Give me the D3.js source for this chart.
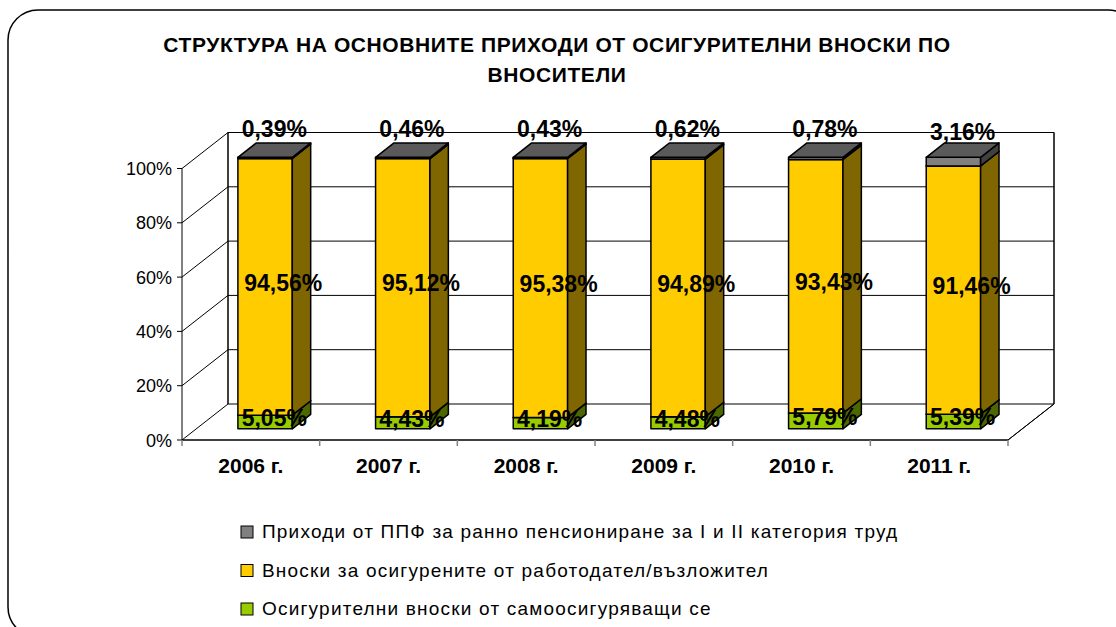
<!DOCTYPE html>
<html>
<head>
<meta charset="utf-8">
<script src="https://cdn.jsdelivr.net/npm/d3@7"></script>
<style>
  body { margin: 0; background: #fff; }
  svg { display: block; font-family: Arial, "Liberation Sans", sans-serif; }
</style>
</head>
<body>
<svg id="chart" width="1116" height="627"></svg>
<script>
// data
let years = ['2006 г.', '2007 г.', '2008 г.', '2009 г.', '2010 г.', '2011 г.'];
let selfInsured = [5.05, 4.43, 4.19, 4.48, 5.79, 5.39];
let employer = [94.56, 95.12, 95.38, 94.89, 93.43, 91.46];
let ppf = [0.39, 0.46, 0.43, 0.62, 0.78, 3.16];
let yTicks = [0, 20, 40, 60, 80, 100];
let seriesNames = [
    'Приходи от ППФ за ранно пенсиониране за I и II категория труд',
    'Вноски за осигурените от работодател/възложител',
    'Осигурителни вноски от самоосигуряващи се'
];
let titleLines = ['СТРУКТУРА НА ОСНОВНИТЕ ПРИХОДИ ОТ ОСИГУРИТЕЛНИ ВНОСКИ ПО', 'ВНОСИТЕЛИ'];

let series = [
    { name: seriesNames[2], values: selfInsured, front: '#99cc00', side: '#4d6600', top: '#7a9900' },
    { name: seriesNames[1], values: employer, front: '#ffcc00', side: '#806600', top: '#cca300' },
    { name: seriesNames[0], values: ppf, front: '#808080', side: '#404040', top: '#5a5a5a' }
];

let svg = d3.select('#chart');

// outer frame
svg.append('rect')
    .attr('x', 8).attr('y', 10)
    .attr('width', 1130).attr('height', 627)
    .attr('rx', 30)
    .attr('fill', '#fff')
    .attr('stroke', '#000')
    .attr('stroke-width', 1.5);

// title
svg.append('g').selectAll('text')
    .data(titleLines)
    .join('text')
    .attr('x', 557)
    .attr('y', (d, i) => 52 + i * 30)
    .attr('text-anchor', 'middle')
    .attr('font-size', 21)
    .attr('letter-spacing', 0.6)
    .attr('font-weight', 'bold')
    .text(d => d);

// 3d geometry
let x0 = 182, x1 = 1008, base = 440;
let depthX = 46, depthY = -36;
let x = d3.scaleBand().domain(years).range([x0, x1]);
let y = d3.scaleLinear().domain([0, 100]).range([0, 271.5]);

function pt(xf, v, d) {
    return [xf + d * depthX, base - y(v) + d * depthY];
}
function poly(points) {
    return 'M' + points.map(p => p.join(',')).join('L') + 'Z';
}

let walls = svg.append('g').attr('fill', 'none').attr('stroke', '#000').attr('stroke-width', 1);

// back wall gridlines
walls.selectAll('.grid')
    .data(yTicks)
    .join('line')
    .attr('x1', d => pt(x0, d, 1)[0]).attr('y1', d => pt(x0, d, 1)[1])
    .attr('x2', d => pt(x1, d, 1)[0]).attr('y2', d => pt(x1, d, 1)[1]);

// left wall diagonals
walls.selectAll('.diag')
    .data(yTicks)
    .join('line')
    .attr('x1', d => pt(x0, d, 0)[0]).attr('y1', d => pt(x0, d, 0)[1])
    .attr('x2', d => pt(x0, d, 1)[0]).attr('y2', d => pt(x0, d, 1)[1]);

// back wall edges
walls.append('path').attr('d', poly([pt(x0, 0, 1), pt(x0, 100, 1)]));
walls.append('path').attr('d', poly([pt(x1, 0, 1), pt(x1, 100, 1)]));
// floor right edge
walls.append('path').attr('d', poly([pt(x1, 0, 0), pt(x1, 0, 1)]));

// value axis
let yAxis = svg.append('g');
yAxis.append('line')
    .attr('x1', x0).attr('x2', x0)
    .attr('y1', pt(x0, 0, 0)[1]).attr('y2', pt(x0, 100, 0)[1])
    .attr('stroke', '#000');
yAxis.selectAll('.tick')
    .data(yTicks)
    .join('line')
    .attr('x1', x0 - 5).attr('x2', x0)
    .attr('y1', d => pt(x0, d, 0)[1]).attr('y2', d => pt(x0, d, 0)[1])
    .attr('stroke', '#000');
yAxis.selectAll('text')
    .data(yTicks)
    .join('text')
    .attr('x', x0 - 10)
    .attr('y', d => pt(x0, d, 0)[1] + 6.5)
    .attr('text-anchor', 'end')
    .attr('font-size', 18)
    .text(d => d + '%');

// category axis
let xAxis = svg.append('g');
xAxis.append('line')
    .attr('x1', x0).attr('x2', x1)
    .attr('y1', base).attr('y2', base)
    .attr('stroke', '#000').attr('stroke-width', 1.5);
xAxis.selectAll('.tick')
    .data(years.concat(['end']))
    .join('line')
    .attr('x1', (d, i) => x0 + i * x.step()).attr('x2', (d, i) => x0 + i * x.step())
    .attr('y1', base).attr('y2', base + 6)
    .attr('stroke', '#808080').attr('stroke-width', 1.5);
xAxis.selectAll('text')
    .data(years)
    .join('text')
    .attr('x', d => x(d) + x.bandwidth() / 2)
    .attr('y', base + 33)
    .attr('text-anchor', 'middle')
    .attr('font-size', 21)
    .attr('font-weight', 'bold')
    .text(d => d);

// bars
let f0 = 0.31, f1 = 0.71;
let barW = x.bandwidth() * 0.395;
let bars = svg.append('g').attr('stroke', '#000').attr('stroke-width', 1.5).attr('stroke-linejoin', 'round');
let labels = [];

years.forEach((yr, i) => {
    let cx = x(yr) + x.bandwidth() / 2;
    let l = cx - barW / 2, r = cx + barW / 2;
    let acc = 0;
    series.forEach((s, si) => {
        let v0 = acc, v1 = acc + s.values[i];
        acc = v1;
        let g = bars.append('g');
        g.append('path').attr('fill', s.front)
            .attr('d', poly([pt(l, v0, f0), pt(r, v0, f0), pt(r, v1, f0), pt(l, v1, f0)]));
        g.append('path').attr('fill', s.side)
            .attr('d', poly([pt(r, v0, f0), pt(r, v0, f1), pt(r, v1, f1), pt(r, v1, f0)]));
        g.append('path').attr('fill', s.top)
            .attr('d', poly([pt(l, v1, f0), pt(r, v1, f0), pt(r, v1, f1), pt(l, v1, f1)]));
        let c = pt(cx, (v0 + v1) / 2, (f0 + f1) / 2);
        labels.push({
            x: si === 1 ? c[0] + 9 : c[0],
            y: si === 2 ? c[1] - 22 : c[1] + 3,
            text: d3.format('.2f')(s.values[i]).replace('.', ',') + '%'
        });
    });
});

svg.append('g').selectAll('text')
    .data(labels)
    .join('text')
    .attr('x', d => d.x)
    .attr('y', d => d.y + 8)
    .attr('text-anchor', 'middle')
    .attr('font-size', 23)
    .attr('font-weight', 'bold')
    .text(d => d.text);

// legend
let legendItems = [series[2], series[1], series[0]];
let legend = svg.append('g').selectAll('g')
    .data(legendItems)
    .join('g')
    .attr('transform', (d, i) => 'translate(241,' + (526 + i * 38.5) + ')');
legend.append('rect')
    .attr('width', 12).attr('height', 12)
    .attr('fill', d => d.front)
    .attr('stroke', '#000').attr('stroke-width', 1);
legend.append('text')
    .attr('x', 21).attr('y', 12)
    .attr('font-size', 19)
    .attr('letter-spacing', 1.2)
    .text(d => d.name);
</script>
</body>
</html>
